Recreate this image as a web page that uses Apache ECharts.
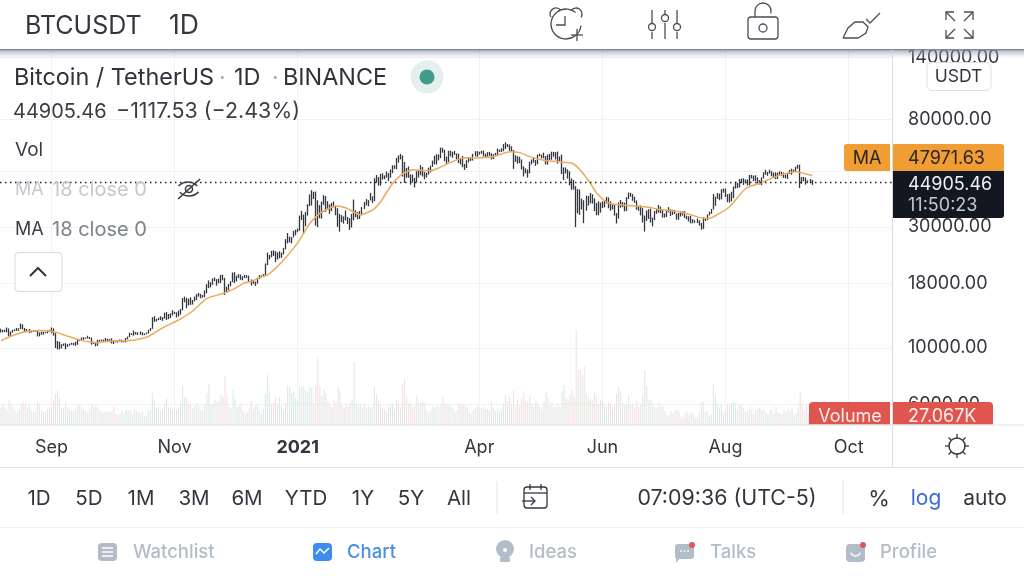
<!DOCTYPE html>
<html>
<head>
<meta charset="utf-8">
<script src="https://cdn.jsdelivr.net/npm/echarts@6/dist/echarts.min.js"></script>
<style>html,body{margin:0;background:#fff}#chart{width:1024px;height:576px}</style>
</head>
<body>
<div id="chart"></div>
<script>
// daily bars 2020-08-07 .. 2021-09-13, one row per month
const closes = [
11600,11770,11680,11880,11390,11570,11790,11780,11850,11900,12290,11970,11750,11860,11500,11680,11650,11750,11320,11460,11320,11540,11480,11700,11650,
11920,11390,10170,10470,10170,10260,10370,10130,10220,10340,10390,10440,10330,10680,10790,10950,10940,10940,11080,10920,10420,10530,10240,10740,10690,10730,10770,10690,10840,10780,
10620,10570,10550,10670,10790,10600,10670,10920,11050,11300,11370,11540,11430,11430,11500,11320,11360,11500,11750,11910,12820,12990,12930,13120,13040,13070,13650,13280,13460,13560,13800,
13760,13550,14020,14150,15590,15590,14830,15480,15330,15300,15700,16290,16320,16070,15960,16730,17680,17780,17820,18680,18720,18420,18370,19160,18720,17150,17140,17720,18180,19700,
18770,19220,19420,18650,19150,19360,19170,18320,18550,18250,18040,18810,19170,19270,19440,21380,22800,23120,23850,23480,22720,23820,23250,23720,24660,26440,26270,27030,27370,28880,28990,
29410,32180,33000,31990,33950,36770,39430,40670,40240,38240,35540,33910,37320,39150,36770,36000,35810,36620,35890,35470,30830,33000,32080,32260,32250,32500,30400,33430,34260,34260,33100,
33500,35470,37670,36990,38290,39240,38830,46370,46420,44840,47970,47400,47190,48600,47230,49130,52110,51550,55900,55840,57390,54100,48880,49670,47060,46280,46100,45130,
49590,48440,50350,48370,48750,48880,50970,52380,54880,55850,57800,57220,61180,59000,55640,56900,58910,57650,58030,58100,57350,54080,54340,52300,51300,55050,55840,55780,57630,58740,58790,
58720,58910,57650,58090,58130,58080,56000,58100,58100,59770,60000,59860,63580,62960,63180,61330,60050,56150,55660,56470,53800,51700,51190,50100,49060,54030,55030,54880,53580,57800,
57850,56630,57210,53240,57470,56430,57380,58930,58280,55860,56750,49500,49690,49880,46760,46450,43540,42910,36720,40570,37280,37530,34770,38800,38320,39240,38440,35690,34610,35670,37300,
36690,37570,39190,36850,35520,35800,33570,33380,37390,36680,37330,35550,39020,40520,40140,38350,38090,35820,35480,35600,31670,32510,33690,34660,31590,32280,34680,34480,35840,35040,
33510,33800,34670,35290,33690,34220,33860,32880,33810,33510,34260,33090,32730,32820,31880,31380,31520,31780,30840,29790,32140,32290,33580,34290,35380,37270,39460,40010,40030,42240,41460,
39850,38150,39740,40890,42830,44610,43830,46290,45110,45800,45350,44420,47830,47100,47020,45920,44690,44720,46760,49320,48870,49280,49510,47700,48970,46840,49070,48900,48810,46980,47130,
48830,49240,49990,49910,51760,52660,46860,46070,46400,44850,45170,46020,44905.46
];
const highs = [
11900,11800,11810,12050,11950,11630,11790,11850,12000,11950,12490,12400,12010,11890,11890,11720,11720,11780,11770,11530,11600,11590,11550,11720,11790,
12050,11950,11450,10660,10570,10350,10410,10450,10350,10410,10480,10480,10580,10760,10830,11000,11040,10990,11180,11050,10990,10590,10570,10770,10770,10800,10800,10950,10860,10850,
10920,10670,10600,10700,10800,10800,10680,10950,11100,11490,11440,11730,11560,11550,11630,11540,11410,11510,11800,12000,13220,13350,13030,13170,13350,13240,13790,13860,13640,13700,14100,
13900,13830,14060,14260,15750,15960,15770,15650,15840,15480,15960,16320,16490,16350,16180,16880,17860,18480,18180,18820,18970,18700,18770,19420,19480,18920,17460,17900,18350,19860,
19920,19300,19560,19500,19190,19420,19380,19300,18640,18560,18290,18950,19410,19350,19570,21560,23800,23290,24170,24300,24100,23840,24100,23800,24790,26870,28420,27500,27410,29020,29300,
29600,33300,34780,33600,34440,36940,40370,41950,41350,41420,38260,36630,37850,40100,39750,37950,36850,37400,37850,36400,35600,33830,33450,33070,34880,32920,32550,33780,38530,34930,34340,
34720,35980,37660,38700,38310,40950,39700,46790,48200,47300,48630,48900,48000,49700,49000,50650,52620,52540,56300,57500,58350,57500,54200,51370,52050,48390,48360,46930,
49800,50200,52640,51770,49450,49200,51450,52400,54900,57400,58150,58050,61800,61680,60600,56950,60000,60100,59450,59880,58590,58420,55830,57200,53230,55100,56600,56580,58400,59800,59800,
59460,60050,60100,58500,59250,59450,58650,58150,58880,61220,60670,61400,63770,64850,63800,63520,62500,60400,57600,57100,56800,55500,52100,51170,50600,54350,55450,56430,55200,57950,
58460,57950,59000,57200,58000,58360,59500,59450,59300,59600,57000,58000,51600,51550,50700,49800,46670,46000,43550,42450,42200,38850,38300,39900,39800,40900,40400,38950,37300,37900,37500,
37900,38230,39480,39250,37900,36800,36900,34070,37530,38400,37680,37450,39380,41060,40980,40500,39550,38200,36450,36500,35750,33300,34880,35300,35500,32730,34730,35300,36670,36100,
35040,33950,34950,35950,35280,35100,35050,33950,34100,34600,34600,34680,33300,33100,33180,32250,31950,32420,31900,31150,32850,32580,33650,34500,35400,40500,39540,40900,40630,42320,42600,
42600,40450,40650,41350,43400,45300,44750,46450,46650,46700,46220,46200,48150,48200,47900,48050,47100,45950,47100,49380,50500,49500,50500,49850,49250,49350,49200,49750,49600,49200,48250,
49000,50400,51000,50560,51900,52780,52920,47300,47300,47000,45900,46450,46050
];
const lows = [
11520,11530,11560,11530,11140,11160,11500,11660,11680,11690,11880,11850,11570,11670,11460,11510,11590,11590,11110,11120,11290,11300,11430,11420,11600,
11430,11190,10000,9880,9880,9980,10190,9880,10100,10220,10300,10250,10200,10300,10640,10730,10780,10870,10900,10860,10310,10360,10150,10200,10600,10650,10600,10600,10650,10670,
10430,10370,10520,10500,10630,10530,10530,10520,10820,11050,11250,11180,11300,11260,11280,11220,11250,11330,11410,11680,11900,12680,12720,12880,12900,12800,13050,12900,13000,13130,13430,
13620,13200,13300,13530,14090,15160,14350,14720,14800,14840,15280,15470,15950,15710,15800,15880,16430,17220,17340,17750,18370,17610,18000,18050,18500,16190,16500,16880,17520,18180,
18050,18320,18880,18570,18500,18900,18900,18200,17650,17900,17570,17960,18720,19000,19050,19280,21230,22350,22800,23060,21820,22350,22600,22700,23400,24500,25880,26100,25880,27320,27850,
28620,29000,32000,28130,30220,33300,36300,36500,38720,30420,30000,32530,32400,36700,34400,35360,33850,34700,35880,33400,30070,28800,31400,30960,31910,30840,29240,29880,31900,32830,32200,
32300,33420,35360,36570,36230,38230,37350,37990,45000,43700,43730,46200,46300,47000,45570,47000,48950,50900,50700,53860,55480,47500,44900,47000,46900,44100,45000,43000,
45000,47050,48100,47500,46300,47070,48270,49270,51850,53000,53000,55000,56100,59000,54600,53270,54100,57000,56300,57800,55450,53650,53000,51700,50400,51300,53970,54700,54900,57000,56800,
57900,58400,57000,56500,56800,57350,55470,55700,57650,57700,59380,59370,59800,61000,62050,60000,59600,50900,54200,53400,53600,50600,47500,48900,47000,48800,53000,53900,52300,53050,
57050,56000,56000,53000,52900,55200,55300,56900,55500,53400,54400,48600,46000,48800,46600,43800,42100,42200,30000,34000,33500,35200,31100,34800,36450,37200,37150,34700,33400,33400,34200,
35700,35900,37170,35600,34800,35250,33300,31000,32400,35800,35950,34600,34750,38700,39500,38100,37400,35150,34800,33350,31250,28800,31700,32300,31280,30200,31980,33850,34200,34050,
32700,32700,32900,34300,33150,33530,33770,32100,32050,33000,33300,32650,32200,31600,31050,31020,31200,31100,30400,29300,29500,31700,32000,33400,33850,35200,36400,38800,38300,38600,41000,
39430,37600,37500,37900,39000,42550,42780,43000,44700,44000,44650,43800,43800,46700,45500,45600,44400,44200,43950,46650,48250,47800,48800,47600,47200,46400,46400,48300,47800,46900,46700,
46500,48580,48300,49450,49500,51000,42800,44500,45500,44100,44700,44700,44000
];
// volume in thousands of BTC
const volumes = [
50,62,48,44,72,56,50,40,36,44,60,66,62,48,58,40,36,38,66,60,42,38,36,46,50,
44,70,88,97,75,48,46,64,50,42,40,38,44,52,58,50,44,38,36,46,60,52,56,48,40,38,34,40,36,38,
40,54,30,28,34,42,34,44,40,42,30,46,40,36,34,38,26,24,38,44,90,70,46,52,38,44,60,77,50,48,42,
40,42,50,62,112,80,76,60,58,48,54,62,56,42,38,60,90,115,58,60,70,66,70,88,80,138,88,52,46,100,
74,50,54,62,38,32,36,48,66,44,56,60,38,30,46,88,142,96,58,62,80,60,78,54,40,62,112,108,90,96,76,
68,108,105,110,96,92,108,105,62,112,190,110,82,100,90,66,60,50,70,66,108,96,56,48,60,52,64,70,178,60,52,
60,50,62,48,54,50,52,108,86,70,58,46,44,36,50,58,60,44,72,62,50,115,131,80,58,62,50,54,
80,60,62,66,62,40,36,44,52,50,54,50,60,80,62,58,56,52,48,36,42,62,54,60,56,50,36,30,42,48,54,
50,48,52,44,46,42,66,48,40,46,36,46,62,84,66,78,60,100,56,72,58,74,96,68,64,82,60,52,66,60,
50,44,66,92,78,56,64,50,52,62,52,96,112,76,70,88,100,78,268,155,155,140,165,90,80,74,70,90,80,60,70,
66,56,52,64,60,44,56,88,108,96,62,56,60,84,58,60,48,68,50,60,88,155,110,70,72,64,50,46,64,52,
54,38,26,28,40,32,42,44,38,24,22,34,36,30,38,34,22,22,36,65,66,36,38,26,30,117,84,60,50,56,36,
44,58,56,62,66,62,44,58,56,48,38,40,52,44,30,40,46,48,40,44,38,30,42,44,34,52,36,34,30,42,36,
46,40,48,28,34,50,96,62,44,58,30,28,27.067
];
// MA 18: day index and value
const maDays = [0,4,8,12,16,20,24,28,32,36,40,44,48,52,56,60,64,68,73,80,88,95,102,110,116,120,124,129,132,139,147,153,158,166,171,178,184,188,194,198,201,204,208,212,216,220,224,228,232,236,240,244,248,252,257,262,270,275,279,283,287,292,295,300,304,309,319,326,336,342,348,351,356,361,369,376,386,394,399,402];
const maValues = [10680,11050,11350,11600,11700,11720,11660,11500,11200,10950,10720,10560,10500,10600,10680,10650,10700,10820,11100,12000,12900,14000,15700,16400,17200,18000,18300,19100,19400,21800,26000,31000,34000,36300,35700,33500,35000,37700,44600,48000,49600,50500,50300,50000,51000,52700,54500,56000,56300,56200,56400,57000,58300,59500,59000,56900,54800,54500,54000,53600,50400,44700,41000,37700,36900,36600,36100,35300,34500,33500,32500,32500,34000,36100,42600,44700,48100,49600,48600,47971.63];
const lastPrice = 44905.46;
const tickDates = ['2020-09-01','2020-11-01','2021-01-01','2021-04-01','2021-06-01','2021-08-01','2021-10-01'];
const tickNames = ['Sep','Nov','2021','Apr','Jun','Aug','Oct'];
const priceTicks = [6000,10000,18000,30000,50000,80000,140000];
const rangeLabels = ['1D','5D','1M','3M','6M','YTD','1Y','5Y','All'];

// calendar days across the whole time axis, bars stop at 2021-09-13
const categories = [];
for (let i = 0; i < 442; i++) {
  categories.push(new Date(Date.UTC(2020, 7, 7 + i)).toISOString().slice(0, 10));
}
const opens = closes.map((c, i) => i ? closes[i - 1] : 11760);

const font = 'Inter';
const ink = '#4a4e57';
const txt = (x, y, text, size, fill, align, weight) => ({
  type: 'text', z: 70, silent: true, x: x, y: y + 1.5,
  style: { text: text, font: (weight || 400) + ' ' + size + 'px ' + font, fill: fill, align: align || 'left', verticalAlign: 'middle' }
});
const seg = (pts, stroke, w) => ({
  type: 'polyline', z: 70, silent: true, shape: { points: pts },
  style: { stroke: stroke || ink, lineWidth: w || 1.3, fill: null }
});
const circ = (cx, cy, r, stroke, fill, w) => ({
  type: 'circle', z: 70, silent: true, shape: { cx: cx, cy: cy, r: r },
  style: { stroke: stroke || (fill ? null : ink), fill: fill || null, lineWidth: w || 1.3 }
});
const box = (x, y, w, h, fill, stroke, r) => ({
  type: 'rect', z: 65, silent: true, shape: { x: x, y: y, width: w, height: h, r: r || 0 },
  style: { fill: fill, stroke: stroke || null, lineWidth: 1 }
});
const arc = (cx, cy, r, a0, a1, stroke, w) => ({
  type: 'arc', z: 70, silent: true, shape: { cx: cx, cy: cy, r: r, startAngle: a0, endAngle: a1 },
  style: { stroke: stroke || ink, lineWidth: w || 1.3, fill: null }
});

const rangeX = [39, 89, 141, 194, 247, 306, 363, 411, 459];
const tabGrey = '#b3bdc9';
const graphics = [
  // top bar
  box(0, 0, 1024, 50, '#fff'),
  { type: 'rect', z: 66, silent: true, shape: { x: 0, y: 49, width: 1024, height: 10 },
    style: { fill: new echarts.graphic.LinearGradient(0, 0, 0, 1, [
      { offset: 0, color: 'rgba(100,115,135,0.98)' }, { offset: 0.22, color: 'rgba(135,148,166,0.55)' }, { offset: 1, color: 'rgba(200,208,218,0)' }]) } },
  txt(25, 24.5, 'BTCUSDT', 25, '#33363f'),
  txt(169, 24.5, '1D', 26.5, '#33363f'),
  // alarm
  arc(566, 24, 15, 0.1, 5.4),
  arc(556, 14, 6, 2.6, 5.6),
  arc(576, 14, 6, 3.8, 0.6),
  seg([[565, 16], [565, 25], [556, 25]]),
  seg([[577, 29], [577, 41]]), seg([[571, 35], [583, 35]]),
  // sliders
  seg([[652, 10], [652, 23]]), circ(652, 27, 3.5), seg([[652, 32], [652, 39]]),
  seg([[665, 10], [665, 14]]), circ(665, 18, 3.5), seg([[665, 23], [665, 39]]),
  seg([[677, 10], [677, 23]]), circ(677, 27, 3.5), seg([[677, 32], [677, 39]]),
  // lock
  { type: 'rect', z: 70, silent: true, shape: { x: 748, y: 17, width: 30, height: 22, r: 3 }, style: { fill: null, stroke: ink, lineWidth: 1.3 } },
  circ(763, 28, 4),
  arc(763, 11, 8, 3.14, 0.3), seg([[755, 11], [755, 17]]),
  // brush
  seg([[843, 38], [848, 28], [855, 22], [863, 22], [868, 27], [866, 33], [858, 38], [843, 38]]),
  seg([[866, 19], [870, 23], [880, 13]]),
  // fullscreen
  seg([[946, 20], [946, 12], [954, 12]]), seg([[946, 12], [955, 21]]),
  seg([[964, 12], [973, 12], [973, 20]]), seg([[973, 12], [964, 21]]),
  seg([[946, 30], [946, 38], [954, 38]]), seg([[946, 38], [955, 29]]),
  seg([[964, 38], [973, 38], [973, 30]]), seg([[973, 38], [964, 29]]),

  // legend block
  txt(14, 76.5, 'Bitcoin / TetherUS', 23.4, '#2f323b'),
  txt(219, 76.5, '·', 23, '#a8acb4'),
  txt(234, 76.5, '1D', 23.4, '#2f323b'),
  txt(272, 76.5, '·', 23, '#a8acb4'),
  txt(283, 76.5, 'BINANCE', 23.4, '#2f323b'),
  circ(427, 77, 16.5, null, '#e4f0ee'),
  circ(427, 77, 7.5, null, '#3f9c8c'),
  txt(13, 110.5, '44905.46', 20, '#3a3d46'),
  txt(116, 110.5, '−1117.53 (−2.43%)', 21.4, '#3a3d46'),
  txt(15, 148.5, 'Vol', 19, '#3a3d46'),
  txt(15, 188.5, 'MA', 18, '#c5c8cd'),
  txt(52, 188.5, '18 close 0', 20, '#c5c8cd'),
  arc(188, 195, 13, 3.9, 5.5, '#3a3d46', 1.6),
  arc(189, 183, 13, 0.75, 2.35, '#3a3d46', 1.6),
  circ(189, 189, 3.5, '#3a3d46', null, 1.6),
  seg([[178, 199], [200, 179]], '#3a3d46', 1.6),
  txt(15, 228.5, 'MA', 18, '#3a3d46'),
  txt(52, 228.5, '18 close 0', 20, '#7d828b'),
  box(15, 252.5, 47, 39, '#fff', '#d8dade', 4),
  seg([[30, 276], [38, 268], [46, 276]], '#33363f', 2),

  // price scale badges
  box(927, 62.5, 64, 28, '#fff', '#dcdfe3', 5),
  txt(958.5, 75.5, 'USDT', 17.5, '#33363f', 'center'),
  box(844, 144, 46, 27, '#f09d33', null, [3, 0, 0, 3]),
  box(892, 144, 112, 27, '#f09d33', null, [3, 3, 0, 0]),
  txt(867, 157, 'MA', 18, '#2a2622', 'center'),
  txt(908, 157, '47971.63', 18, '#2a2622'),
  box(892, 171, 112, 47, '#131722', null, [0, 0, 3, 0]),
  txt(908, 183.5, '44905.46', 18, '#eef0f3'),
  txt(908, 204.5, '11:50:23', 18, '#c4c8ce'),
  box(809, 402, 81, 22.5, '#e0564f', null, [4, 0, 0, 0]),
  box(892, 402, 101, 22.5, '#e0564f', null, [0, 4, 0, 0]),
  txt(850, 415, 'Volume', 18, '#fbeeed', 'center'),
  txt(908, 415, '27.067K', 18, '#fbeeed'),

  // rules
  seg([[892.5, 50], [892.5, 467]], '#d9dce1', 1),
  seg([[0, 425], [1024, 425]], '#dfe2e6', 1),
  seg([[0, 467.5], [1024, 467.5]], '#dcdfe3', 1),
  seg([[0, 527.5], [1024, 527.5]], '#f0f1f3', 1),
  // brightness icon
  circ(957, 446, 8, '#33363f', null, 1.5),
  seg([[957, 434], [957, 438]], '#33363f'), seg([[957, 454], [957, 458]], '#33363f'),
  seg([[945, 446], [949, 446]], '#33363f'), seg([[965, 446], [969, 446]], '#33363f'),
  seg([[948.5, 437.5], [951, 440]], '#33363f'), seg([[963, 452], [965.5, 454.5]], '#33363f'),
  seg([[965.5, 437.5], [963, 440]], '#33363f'), seg([[951, 452], [948.5, 454.5]], '#33363f'),

  // range row
  ...rangeLabels.map((t, i) => txt(rangeX[i], 497.5, t, 20.5, '#33363f', 'center')),
  seg([[497, 481], [497, 514]], '#e2e4e8', 1),
  { type: 'rect', z: 70, silent: true, shape: { x: 524, y: 487, width: 23, height: 21, r: 3 }, style: { fill: null, stroke: '#33363f', lineWidth: 1.3 } },
  box(522, 494, 8, 9, '#fff'),
  seg([[524, 493], [547, 493]], '#33363f'), seg([[530, 484], [530, 490]], '#33363f'), seg([[541, 484], [541, 490]], '#33363f'),
  seg([[522, 501], [535, 501]], '#33363f'), seg([[531, 497], [535, 501], [531, 505]], '#33363f'),
  txt(727, 497.5, '07:09:36 (UTC-5)', 21.4, '#33363f', 'center'),
  seg([[843, 481], [843, 514]], '#e2e4e8', 1),
  txt(879, 497.5, '%', 22, '#33363f', 'center'),
  txt(926, 497.5, 'log', 21, '#3c6bd6', 'center'),
  txt(985, 497.5, 'auto', 21, '#33363f', 'center'),

  // bottom tabs
  box(98, 543, 19, 18, tabGrey, null, 4),
  seg([[102, 548], [113, 548]], '#fff', 1.5), seg([[102, 552], [113, 552]], '#fff', 1.5), seg([[102, 556], [113, 556]], '#fff', 1.5),
  txt(133, 550.5, 'Watchlist', 18.5, tabGrey, 'left', 500),
  box(313, 543, 19, 18, '#3d8cf0', null, 4),
  seg([[316, 554], [320, 549], [324, 553], [329, 548]], '#fff', 1.5),
  txt(347, 550.5, 'Chart', 18.5, '#4a8fe3', 'left', 500),
  circ(505, 549, 9, null, tabGrey), box(500, 557, 10, 5, tabGrey, null, 1),
  circ(505, 550, 2, null, '#fff'),
  txt(529, 550.5, 'Ideas', 18.5, tabGrey, 'left', 500),
  box(675, 544, 19, 15, tabGrey, null, 3),
  { type: 'polygon', z: 66, silent: true, shape: { points: [[676, 556], [682, 556], [676, 563]] }, style: { fill: tabGrey } },
  txt(684.5, 550, '···', 11, '#fff', 'center', 700),
  circ(692, 545, 3, null, '#e2535a'),
  txt(710, 550.5, 'Talks', 18.5, tabGrey, 'left', 500),
  box(846, 544, 19, 18, tabGrey, null, 4),
  arc(855.5, 551, 5, 0.3, 2.84, '#fff'),
  circ(863, 545, 3, null, '#e2535a'),
  txt(880, 550.5, 'Profile', 18.5, tabGrey, 'left', 500)
];

const chart = echarts.init(document.getElementById('chart'), null, { renderer: 'canvas' });

const gridBox = { left: 0, right: 132, top: 50, bottom: 151 };
const isTick = (index, value) => tickDates.includes(value);

chart.setOption({
  animation: false,
  backgroundColor: '#fff',
  textStyle: { fontFamily: font },
  grid: [gridBox, gridBox],
  xAxis: [
    {
      type: 'category',
      data: categories,
      axisLine: { show: false },
      axisTick: { show: false },
      axisLabel: {
        interval: isTick,
        margin: 14,
        fontSize: 18,
        fontFamily: font,
        color: '#33363f',
        formatter: (value) => {
          const name = tickNames[tickDates.indexOf(value)];
          return name === '2021' ? '{b|2021}' : name;
        },
        rich: { b: { fontSize: 18, fontWeight: 700, fontFamily: font, color: '#33363f', letterSpacing: 2 } }
      },
      splitLine: { show: true, interval: isTick, alignWithLabel: true, lineStyle: { color: '#f0f2f5', width: 1 } }
    },
    { type: 'category', gridIndex: 1, data: categories, show: false }
  ],
  yAxis: [
    {
      type: 'log',
      position: 'right',
      min: 4969,
      max: 149900,
      axisLine: { show: false },
      axisTick: { show: false, customValues: priceTicks },
      axisLabel: {
        customValues: priceTicks,
        margin: 16,
        padding: [6, 0, 0, 0],
        fontSize: 18,
        fontFamily: font,
        color: '#33363f',
        showMinLabel: true,
        showMaxLabel: true,
        formatter: (v) => Number(v).toFixed(2)
      },
      splitLine: { show: true, lineStyle: { color: '#f0f2f5', width: 1 } }
    },
    { type: 'value', gridIndex: 1, min: 0, max: 1058, show: false }
  ],
  series: [
    {
      name: 'Volume',
      type: 'bar',
      xAxisIndex: 1,
      yAxisIndex: 1,
      barWidth: 1,
      z: 1,
      data: volumes.map((v, i) => ({
        value: v,
        itemStyle: { color: closes[i] >= opens[i] ? '#d8e9e6' : '#f3dedd' }
      }))
    },
    {
      name: 'BTCUSDT',
      type: 'candlestick',
      barWidth: 1.2,
      z: 3,
      itemStyle: { color: '#33363f', color0: '#33363f', borderColor: '#33363f', borderColor0: '#33363f', borderWidth: 1.3 },
      data: closes.map((c, i) => [opens[i], c, lows[i], highs[i]])
    },
    {
      name: 'MA 18 close 0',
      type: 'line',
      showSymbol: false,
      smooth: 0.2,
      z: 4,
      lineStyle: { color: '#ebaa5c', width: 1.5 },
      data: maDays.map((d, i) => [categories[d], maValues[i]]),
      markLine: {
        silent: true,
        symbol: 'none',
        label: { show: false },
        lineStyle: { type: [1.5, 3.5], color: '#23262e', width: 1.3 },
        data: [{ yAxis: lastPrice }]
      }
    }
  ],
  graphic: { elements: graphics }
});
</script>
</body>
</html>
